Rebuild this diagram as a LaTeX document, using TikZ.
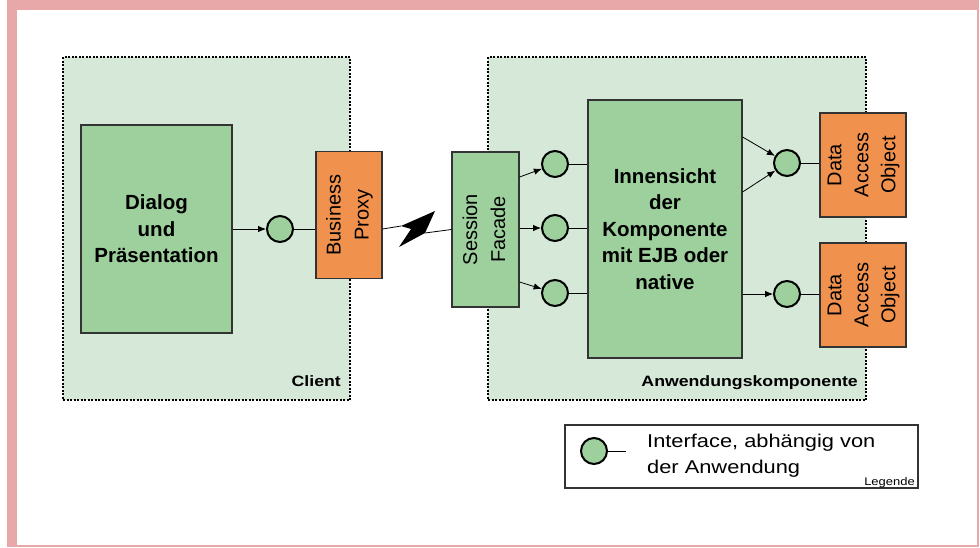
\documentclass[tikz,border=0pt]{standalone}
\usepackage{fontspec}
\setmainfont{Liberation Sans}
\newfontfamily\widefont[FakeStretch=1.18]{Liberation Sans}
\usetikzlibrary{arrows.meta}
\definecolor{pale}{RGB}{214,232,216}
\definecolor{leaf}{RGB}{157,208,157}
\definecolor{peel}{RGB}{240,146,78}
\definecolor{rose}{RGB}{232,168,170}
\newcommand{\vtext}[1]{\rotatebox{90}{\begin{tabular}{@{}c@{}}#1\end{tabular}}}
\tikzstyle{group}=[fill=pale, draw=black, line width=1.3pt, dash pattern=on 2pt off 1.5pt, shape=rectangle, inner sep=0]
\tikzstyle{part}=[fill=leaf, draw=black!80, line width=1.2pt, shape=rectangle, inner sep=0, align=center, font=\bfseries\fontsize{20.5}{26.5}\selectfont]
\tikzstyle{facade}=[fill=leaf, draw=black!80, line width=1.2pt, shape=rectangle, inner sep=0, font=\fontsize{20}{28}\selectfont]
\tikzstyle{proxy}=[fill=peel, draw=black!80, line width=1.2pt, shape=rectangle, inner sep=0, font=\fontsize{20}{28}\selectfont]
\tikzstyle{dao}=[fill=peel, draw=black!80, line width=1.2pt, shape=rectangle, inner sep=0, font=\fontsize{20}{27}\selectfont]
\tikzstyle{iface}=[fill=leaf, draw=black, line width=2pt, shape=circle, minimum size=26pt, inner sep=0]
\tikzstyle{tag}=[inner sep=0, font=\widefont\bfseries\fontsize{15}{18}\selectfont]
\tikzstyle{legend}=[fill=white, draw=black!80, line width=1.2pt, shape=rectangle, inner sep=0]
\tikzstyle{note}=[inner sep=0, align=left, font=\widefont\fontsize{18.5}{26}\selectfont]
\tikzstyle{ed}=[-{Latex[length=8pt,width=6.5pt]}, draw=black, line width=0.8pt]
\tikzstyle{plain}=[-, draw=black, line width=0.8pt]

\begin{document}
\begin{tikzpicture}[x=1pt, y=-1pt]
	\fill [rose] (7,0) rectangle (979,546.5);
	\fill [white] (17,10) rectangle (977,545);
	\useasboundingbox (0,0) rectangle (980,547);
	\node [style=group, minimum width=287pt, minimum height=343pt] (0) at (206.5, 228.5) {};
	\node [style=group, minimum width=378pt, minimum height=343pt] (1) at (677, 228.5) {};
	\node [style=part, minimum width=151pt, minimum height=208pt] (2) at (156.5, 229) {Dialog\\und\\Präsentation};
	\node [style=iface] (3) at (280, 229) {};
	\node [style=proxy, minimum width=66pt, minimum height=127pt] (4) at (349, 215) {\vtext{Business\\Proxy}};
	\node [style=facade, minimum width=67pt, minimum height=155pt] (5) at (485.5, 229.5) {\vtext{Session\\Facade}};
	\node [style=iface] (6) at (555, 164) {};
	\node [style=iface] (7) at (555, 228) {};
	\node [style=iface] (8) at (555, 293) {};
	\node [style=part, minimum width=154pt, minimum height=258pt] (9) at (665, 229) {Innensicht\\der\\Komponente\\mit EJB oder\\native};
	\node [style=iface] (10) at (787, 163) {};
	\node [style=iface] (11) at (787, 294) {};
	\node [style=dao, minimum width=86pt, minimum height=104pt] (12) at (863, 165) {\vtext{Data\\Access\\Object}};
	\node [style=dao, minimum width=86pt, minimum height=104pt] (13) at (863, 295) {\vtext{Data\\Access\\Object}};
	\node [style=tag, anchor=base east] (14) at (341, 386) {Client};
	\node [style=tag, anchor=base east] (15) at (858, 386) {Anwendungskomponente};
	\node [style=legend, minimum width=353pt, minimum height=63pt] (16) at (741.5, 456.5) {};
	\node [style=iface] (17) at (594, 451) {};
	\coordinate (18) at (626, 451);
	\node [style=note, anchor=north west] (19) at (647, 434) {Interface, abhängig von\\der Anwendung};
	\node [inner sep=0, anchor=base east, font=\widefont\fontsize{11}{13}\selectfont] (25) at (915, 485) {Legende};
	\coordinate (20) at (401, 226);
	\coordinate (21) at (435, 211);
	\coordinate (22) at (425, 233);
	\coordinate (23) at (399, 247);
	\coordinate (24) at (411, 229);
	\draw [style=ed] (2) to (3);
	\draw [style=plain] (3) to (3 -| 4.west);
	\draw [style=plain] (4.east |- 3) to (20);
	\fill (20) -- (21) -- (22) -- (23) -- (24) -- cycle;
	\draw [style=plain] (22) to (5.west);
	\draw [style=ed] ([yshift=52.5pt]5.east) to (6);
	\draw [style=ed] (5.east |- 7) to (7);
	\draw [style=ed] ([yshift=-52.5pt]5.east) to (8);
	\draw [style=plain] (6) to (6 -| 9.west);
	\draw [style=plain] (7) to (7 -| 9.west);
	\draw [style=plain] (8) to (8 -| 9.west);
	\draw [style=ed] ([yshift=92pt]9.east) to (10);
	\draw [style=ed] ([yshift=37pt]9.east) to (10);
	\draw [style=ed] (9.east |- 11) to (11);
	\draw [style=plain] (10) to (10 -| 12.west);
	\draw [style=plain] (11) to (11 -| 13.west);
	\draw [style=plain] (17) to (18);
\end{tikzpicture}
\end{document}
